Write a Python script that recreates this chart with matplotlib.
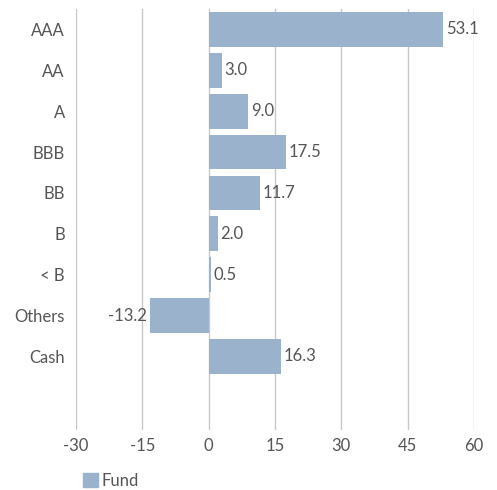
import matplotlib.pyplot as plt
from matplotlib.patches import Patch

plt.rcParams['font.family'] = ['Lato', 'DejaVu Sans']

# data
categories = ["AAA", "AA", "A", "BBB", "BB", "B", "< B", "Others", "Cash", ""]
fund = [53.1, 3.0, 9.0, 17.5, 11.7, 2.0, 0.5, -13.2, 16.3, None]
xticks = [-30, -15, 0, 15, 30, 45, 60]

bar_color = "#9bb2cd"
text_color = "#555555"

fig = plt.figure(figsize=(4.97, 4.90), dpi=100)
ax = fig.add_axes([76 / 497, 1 - 430 / 490, (474 - 76) / 497, (430 - 9) / 490])

ypos = list(range(len(categories)))
vals = [v if v is not None else 0 for v in fund]
ax.barh(ypos, vals, height=0.85, color=bar_color, zorder=2)

for y, v in zip(ypos, fund):
    if v is None:
        continue
    if v >= 0:
        ax.text(v + 0.6, y, f"{v:.1f}", va="center", ha="left", fontsize=12, color=text_color, zorder=3)
    else:
        ax.text(v - 0.8, y, f"{v:.1f}", va="center", ha="right", fontsize=12, color=text_color, zorder=3)

ax.set_xlim(-30, 60)
ax.set_ylim(9.8, -0.5)
ax.set_xticks(xticks)
ax.set_xticklabels([str(t) for t in xticks])
ax.set_yticks(ypos)
ax.set_yticklabels(categories)
ax.xaxis.grid(True, color="#c8c8c8", linewidth=1.0, zorder=0)
ax.set_axisbelow(True)
for s in ax.spines.values():
    s.set_visible(False)
ax.tick_params(axis="both", length=0, labelsize=12, labelcolor=text_color)
ax.tick_params(axis="x", pad=6)
ax.tick_params(axis="y", pad=8)

fig.legend(handles=[Patch(color=bar_color, label="Fund")], loc="lower left",
           bbox_to_anchor=(68 / 497, -0.028), frameon=False, fontsize=12,
           handlelength=0.9, handleheight=0.9, handletextpad=0.2, labelcolor=text_color)

fig.savefig("out.png", dpi=100)
